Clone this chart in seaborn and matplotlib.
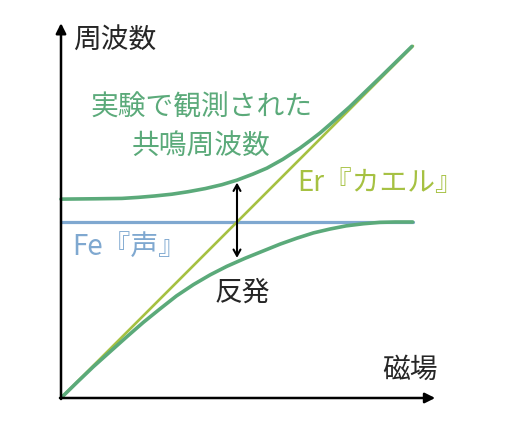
import pandas as pd
import seaborn as sns
import matplotlib.pyplot as plt

# Values (field on x, frequency on y, arbitrary units)
field_er = [0.0, 10.0]
freq_er = [0.0, 10.0]

field_fe = [0.0, 10.0]
freq_fe = [5.0, 5.0]

field_upper = [0.0, 1.0, 1.73, 2.2, 2.67, 3.15, 3.61, 4.1, 4.57, 5.0, 5.45, 5.85,
               6.3, 6.79, 7.1, 7.36, 7.65, 7.93, 8.2, 8.49, 8.8, 9.06, 9.5, 9.97]
freq_upper = [5.65, 5.66, 5.67, 5.70, 5.74, 5.79, 5.86, 5.95, 6.06, 6.19, 6.36, 6.53,
              6.78, 7.10, 7.33, 7.53, 7.78, 8.03, 8.27, 8.55, 8.85, 9.10, 9.53, 9.99]

field_lower = [0.0, 0.46, 0.92, 1.4, 1.87, 2.34, 2.81, 3.28, 3.76, 4.24, 4.71, 5.23,
               5.75, 6.22, 6.70, 7.17, 7.64, 8.1, 8.59, 9.06, 9.5, 9.99]
freq_lower = [0.0, 0.45, 0.89, 1.32, 1.74, 2.15, 2.53, 2.9, 3.22, 3.5, 3.74, 3.97,
              4.18, 4.37, 4.54, 4.69, 4.80, 4.89, 4.95, 4.99, 5.0, 5.0]

gap_x = 5.0
gap_top = 6.12
gap_bottom = 3.98

green = "#5BAA7A"
olive = "#A6C142"
blue = "#7FA8D0"

sns.set_style("white")
plt.rcParams["font.family"] = ["Noto Sans CJK JP", "DejaVu Sans"]

fig = plt.figure(figsize=(5.2, 4.36), dpi=100)
ax = fig.add_axes([0, 0, 1, 1])

er = pd.DataFrame({"field": field_er, "freq": freq_er})
fe = pd.DataFrame({"field": field_fe, "freq": freq_fe})
upper = pd.DataFrame({"field": field_upper, "freq": freq_upper})
lower = pd.DataFrame({"field": field_lower, "freq": freq_lower})

sns.lineplot(data=fe, x="field", y="freq", color=blue, lw=2.3, ax=ax)
sns.lineplot(data=er, x="field", y="freq", color=olive, lw=1.9, ax=ax)
sns.lineplot(data=upper, x="field", y="freq", color=green, lw=2.6, ax=ax)
sns.lineplot(data=lower, x="field", y="freq", color=green, lw=2.6, ax=ax)

# axes arrows
arrow = dict(arrowstyle="-|>,head_width=0.3,head_length=0.6", color="black", lw=1.8,
             shrinkA=0, shrinkB=0)
ax.annotate("", xy=(0, 10.65), xytext=(0, -0.03), arrowprops=arrow)
ax.annotate("", xy=(10.63, 0), xytext=(-0.03, 0), arrowprops=arrow)

# repulsion arrow
ax.annotate("", xy=(gap_x, gap_top), xytext=(gap_x, gap_bottom),
            arrowprops=dict(arrowstyle="<->,head_width=0.25,head_length=0.45",
                            color="black", lw=1.5, shrinkA=0, shrinkB=0))

ax.text(0.34, 10.17, "周波数", fontsize=20, ha="left", va="center")
ax.text(9.12, 0.80, "磁場", fontsize=20, ha="left", va="center")
ax.text(3.98, 7.70, "実験で観測された\n共鳴周波数", fontsize=20, color=green,
        ha="center", va="center", linespacing=1.35)
ax.text(6.70, 6.11, "Er『カエル』", fontsize=20, color=olive, ha="left", va="center")
ax.text(0.31, 4.29, "Fe『声』", fontsize=20, color=blue, ha="left", va="center")
ax.text(4.375, 2.98, "反発", fontsize=20, ha="left", va="center")

ax.set_xlim(-61 / 35.2, 459 / 35.2)
ax.set_ylim(-38 / 35.2, 398 / 35.2)
ax.axis("off")

fig.savefig("out.png", dpi=100)
